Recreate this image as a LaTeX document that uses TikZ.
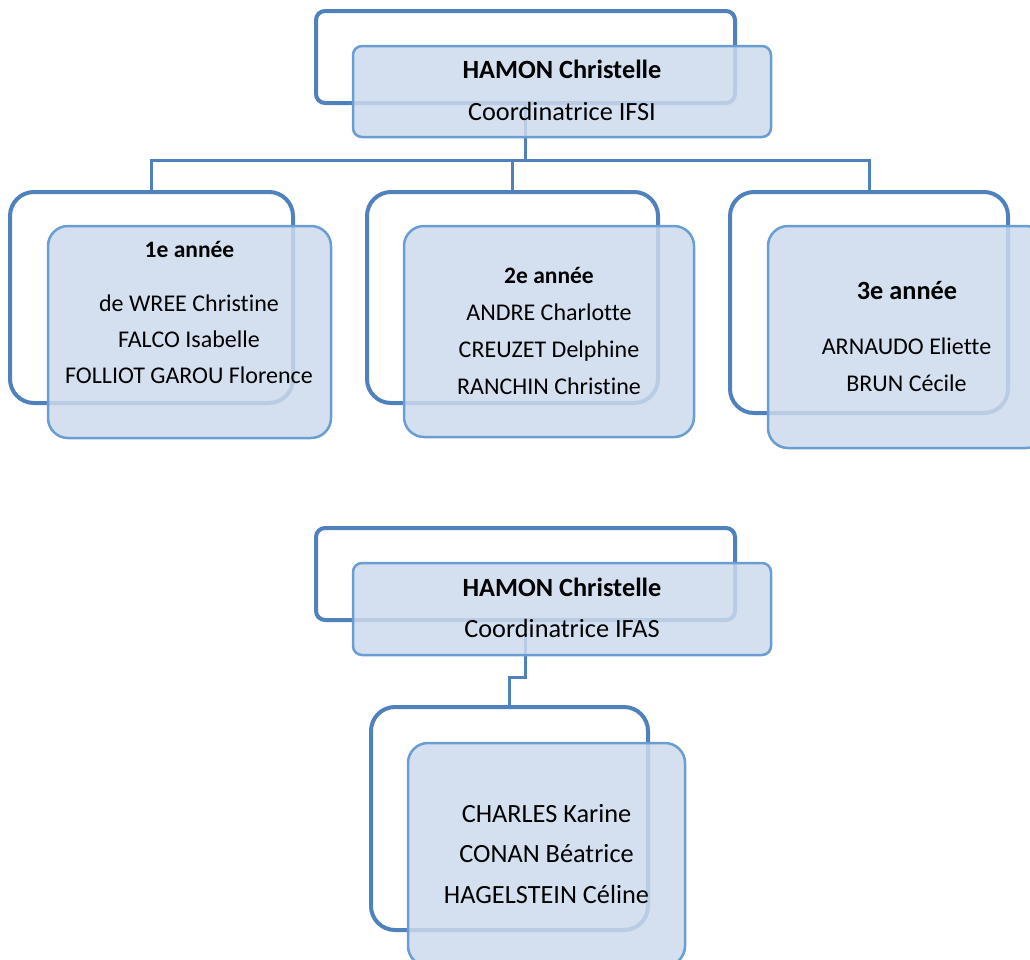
\documentclass[tikz,border=0pt]{standalone}
\usepackage{fontspec}
\setmainfont{Carlito}[Ligatures={NoCommon,NoRare}]
\definecolor{backblue}{HTML}{4F81BD}
\definecolor{frontline}{HTML}{6A9DD3}
\definecolor{frontfill}{HTML}{CCDAEC}
\begin{document}
\begin{tikzpicture}[x=1pt,y=-1pt,
  backbox/.style={draw=backblue, line width=4pt, fill=none, rectangle, inner sep=0pt},
  frontbox/.style={draw=frontline, line width=2.5pt, fill=frontfill, fill opacity=0.85, draw opacity=1, rectangle, inner sep=0pt},
  conn/.style={draw=backblue, line width=3pt},
  ttl/.style={anchor=base, inner sep=0pt, font=\fontsize{26.3}{30}\selectfont\bfseries},
  sub/.style={anchor=base, inner sep=0pt, font=\fontsize{26.3}{30}\selectfont},
  yr/.style={anchor=base, inner sep=0pt, font=\fontsize{23.5}{28}\selectfont\bfseries},
  nm/.style={anchor=base, inner sep=0pt, font=\fontsize{24}{28}\selectfont},
  nmb/.style={anchor=base, inner sep=0pt, font=\fontsize{26.3}{30}\selectfont}]
\useasboundingbox (0,0) rectangle (1030,959);
\clip (0,0) rectangle (1030,959);
% back boxes
\node[backbox, rounded corners=9pt, minimum width=419pt, minimum height=92pt] (t1b) at (525.5,57) {};
\node[backbox, rounded corners=24pt, minimum width=283pt, minimum height=211pt] (b1b) at (151.5,297.5) {};
\node[backbox, rounded corners=24pt, minimum width=291pt, minimum height=211pt] (b2b) at (512.5,297.5) {};
\node[backbox, rounded corners=24pt, minimum width=278pt, minimum height=221pt] (b3b) at (869,302.5) {};
\node[backbox, rounded corners=9pt, minimum width=419pt, minimum height=92pt] (t2b) at (525.5,574) {};
\node[backbox, rounded corners=24pt, minimum width=277pt, minimum height=223pt] (b4b) at (509.5,818.5) {};
% connectors
\coordinate (j1) at (525.5,160);
\coordinate (j2) at (525.5,677);
\draw[conn] (t1b.south) -- (j1);
\draw[conn] (b1b.north) -- (b1b.north |- j1) -- (b3b.north |- j1) -- (b3b.north);
\draw[conn] (b2b.north) -- (b2b.north |- j1);
\draw[conn] (t2b.south) -- (j2) -| (b4b.north);
% front boxes
\node[frontbox, rounded corners=9pt, minimum width=418pt, minimum height=91pt] (t1f) at (562,91.5) {};
\node[frontbox, rounded corners=20pt, minimum width=283pt, minimum height=212pt] (b1f) at (189.5,332) {};
\node[frontbox, rounded corners=20pt, minimum width=290pt, minimum height=211pt] (b2f) at (549,331.5) {};
\node[frontbox, rounded corners=20pt, minimum width=278pt, minimum height=222pt] (b3f) at (907,337) {};
\node[frontbox, rounded corners=9pt, minimum width=418pt, minimum height=92pt] (t2f) at (562,609) {};
\node[frontbox, rounded corners=20pt, minimum width=277pt, minimum height=223pt] (b4f) at (546.5,854.5) {};
% texts
\node[ttl] (t1a) at (562,78) {HAMON Christelle};
\node[sub] (t1c) at (562,120) {Coordinatrice IFSI};
\node[yr] (y1) at (189.5,257) {1e année};
\node[nm] (n11) at (189,311) {de WREE Christine};
\node[nm] (n12) at (189,347) {FALCO Isabelle};
\node[nm] (n13) at (189,383) {FOLLIOT GAROU Florence};
\node[yr] (y2) at (549,283) {2e année};
\node[nm] (n21) at (549,320) {ANDRE Charlotte};
\node[nm] (n22) at (549,357) {CREUZET Delphine};
\node[nm] (n23) at (549,394) {RANCHIN Christine};
\node[ttl] (y3) at (907,299) {3e année};
\node[nm] (n31) at (906.5,354) {ARNAUDO Eliette};
\node[nm] (n32) at (906.5,391) {BRUN Cécile};
\node[ttl] (t2a) at (562,596) {HAMON Christelle};
\node[sub] (t2c) at (562,637) {Coordinatrice IFAS};
\node[nmb] (n41) at (546.5,822) {CHARLES Karine};
\node[nmb] (n42) at (546.5,862) {CONAN Béatrice};
\node[nmb] (n43) at (546.5,903) {HAGELSTEIN Céline};
\end{tikzpicture}
\end{document}
